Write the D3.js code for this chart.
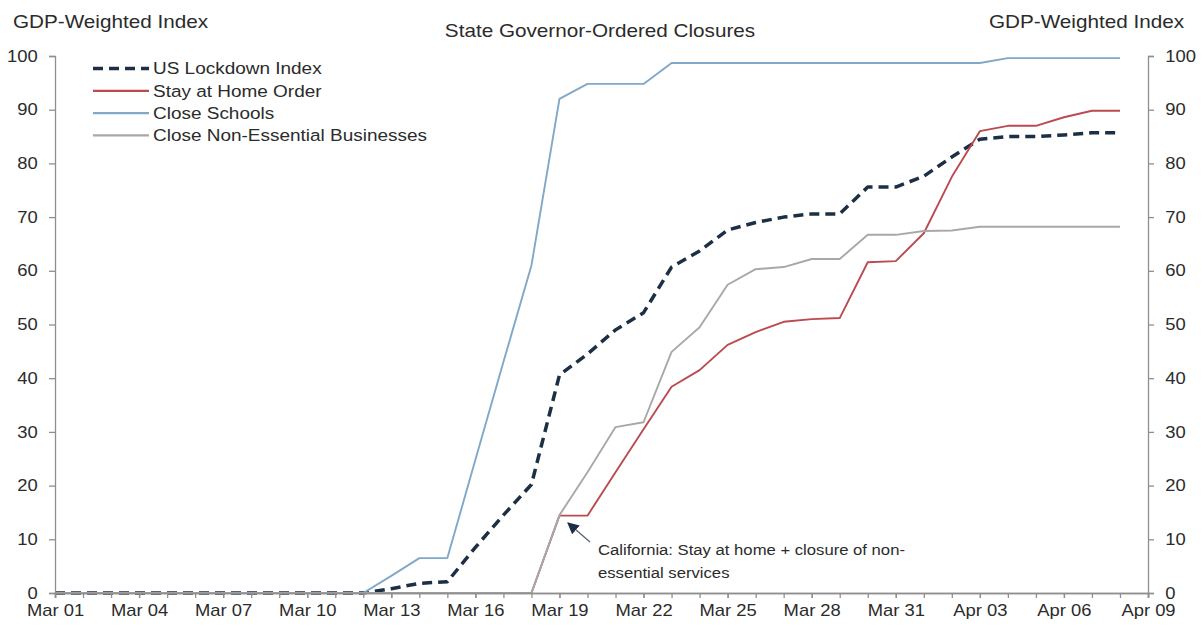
<!DOCTYPE html>
<html>
<head>
<meta charset="utf-8">
<script src="https://cdn.jsdelivr.net/npm/d3@7"></script>
<style>
  body { margin: 0; background: #fff; }
  svg { font-family: "Liberation Sans", Arial, sans-serif; }
</style>
</head>
<body>
<svg id="chart" width="1204" height="626"></svg>
<script>
// dates Mar 01 .. Apr 08 (one point per day)
const start = new Date(2020, 2, 1);
const days = d3.range(39).map(i => d3.timeDay.offset(start, i));

// values, day by day from Mar 01
const lockdown = [0,0,0,0,0,0,0,0,0,0,0,0, 0.8,1.8,2.1,8.5,14.5,20.2,40.6,44.5,49,52.2,60.7,63.7,67.6,69,70,70.6,70.6,75.6,75.6,77.6,81.2,84.5,85,85,85.3,85.7,85.7];
const stayHome = [0,0,0,0,0,0,0,0,0,0,0,0, 0,0,0,0,0,0,14.4,14.4,22.5,30.5,38.4,41.5,46.2,48.6,50.5,51,51.2,61.6,61.8,67,77.5,86,87,87,88.6,89.8,89.8];
const schools = [0,0,0,0,0,0,0,0,0,0,0,0, 3.2,6.5,6.5,24.8,43,61,92,94.8,94.8,94.8,98.7,98.7,98.7,98.7,98.7,98.7,98.7,98.7,98.7,98.7,98.7,98.7,99.6,99.6,99.6,99.6,99.6];
const nonEssential = [0,0,0,0,0,0,0,0,0,0,0,0, 0,0,0,0,0,0,14.5,22.5,30.9,31.8,44.9,49.5,57.4,60.3,60.7,62.2,62.2,66.7,66.7,67.4,67.5,68.2,68.2,68.2,68.2,68.2,68.2];

const yTicks = d3.range(0, 101, 10);
const xTickDates = d3.range(0, 40, 3).map(i => d3.timeDay.offset(start, i));

// drawing order: dashed index at the bottom, solid lines over it
const series = [
    { name: "US Lockdown Index", values: lockdown, color: "#1d2f45", width: 3.5, dash: "10,6" },
    { name: "Close Schools", values: schools, color: "#80a8c9", width: 1.9 },
    { name: "Stay at Home Order", values: stayHome, color: "#bb4a51", width: 1.9 },
    { name: "Close Non-Essential Businesses", values: nonEssential, color: "#a8a8a8", width: 1.9 }
];
const legendOrder = ["US Lockdown Index", "Stay at Home Order", "Close Schools", "Close Non-Essential Businesses"];

const svg = d3.select("#chart");
const plot = { left: 55, right: 1148, top: 56, bottom: 593 };
const stretch = 1.15;   // the source text is rendered a bit wide

const x = d3.scaleTime()
    .domain([start, d3.timeDay.offset(start, 39)])
    .range([plot.left, plot.right]);
const y = d3.scaleLinear().domain([0, 100]).range([plot.bottom, plot.top]);

const axisColor = "#8f8f8f";
const textColor = "#2b2b2b";

function addText(parent, px, py, str, size, anchor) {
    return parent.append("text")
        .attr("transform", `translate(${px},${py}) scale(${stretch},1)`)
        .attr("font-size", size)
        .attr("text-anchor", anchor || "start")
        .attr("fill", textColor)
        .text(str);
}

// lines
const line = d3.line()
    .x((d, i) => x(days[i]))
    .y(d => y(d));

series.forEach(s => {
    svg.append("path")
        .datum(s.values)
        .attr("fill", "none")
        .attr("stroke", s.color)
        .attr("stroke-width", s.width)
        .attr("stroke-dasharray", s.dash || null)
        .attr("stroke-linejoin", "round")
        .attr("d", line);
});

// left axis
const yLeft = svg.append("g")
    .attr("transform", `translate(${plot.left},0)`)
    .call(d3.axisLeft(y).tickValues(yTicks).tickSize(6).tickPadding(9));
// right axis
const yRight = svg.append("g")
    .attr("transform", `translate(${plot.right},0)`)
    .call(d3.axisRight(y).tickValues(yTicks).tickSize(6).tickPadding(9));
// bottom axis: minor tick every day, labels every 3 days
const xMinor = svg.append("g")
    .attr("transform", `translate(0,${plot.bottom})`)
    .call(d3.axisBottom(x).ticks(d3.timeDay.every(1)).tickSize(5).tickFormat(""));
const xAxis = svg.append("g")
    .attr("transform", `translate(0,${plot.bottom})`)
    .call(d3.axisBottom(x).tickValues(xTickDates).tickSize(5).tickPadding(7)
        .tickFormat(d3.timeFormat("%b %d")));

[yLeft, yRight, xMinor, xAxis].forEach(g => {
    g.selectAll("path, line").attr("stroke", axisColor).attr("stroke-width", 1.3);
    g.selectAll("text").attr("fill", textColor).attr("font-size", 16)
        .attr("transform", `scale(${stretch},1)`);
});

// titles
addText(svg, 13, 28, "GDP-Weighted Index", 18);
addText(svg, 1184, 28, "GDP-Weighted Index", 18, "end");
addText(svg, 600, 37, "State Governor-Ordered Closures", 18, "middle");

// legend
const legend = svg.append("g").attr("transform", "translate(93,68.5)");
legendOrder.forEach((name, i) => {
    const s = series.find(d => d.name === name);
    const row = legend.append("g").attr("transform", `translate(0,${i * 22.3})`);
    row.append("line")
        .attr("x1", 0).attr("x2", 56)
        .attr("stroke", s.color)
        .attr("stroke-width", s.dash ? 3.5 : 2.3)
        .attr("stroke-dasharray", s.dash || null);
    addText(row, 60, 0, name, 16.5).attr("dy", "0.35em");
});

// annotation
svg.append("defs").append("marker")
    .attr("id", "arrow")
    .attr("viewBox", "0 0 10 10")
    .attr("refX", 9).attr("refY", 5)
    .attr("markerWidth", 9).attr("markerHeight", 9)
    .attr("orient", "auto")
    .append("path").attr("d", "M0,0 L10,5 L0,10 z").attr("fill", "#1d2f45");

svg.append("line")
    .attr("x1", 590).attr("y1", 542)
    .attr("x2", 568).attr("y2", 523)
    .attr("stroke", "#5a6470").attr("stroke-width", 1.3)
    .attr("marker-end", "url(#arrow)");

addText(svg, 598, 555, "California: Stay at home + closure of non-", 14.5);
addText(svg, 598, 578, "essential services", 14.5);
</script>
</body>
</html>
